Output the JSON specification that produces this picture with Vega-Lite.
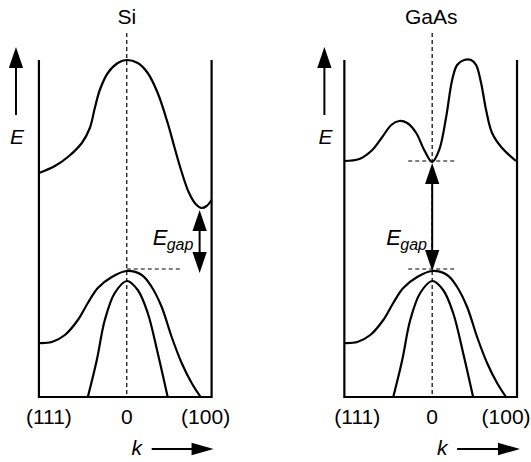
{
  "$schema": "https://vega.github.io/schema/vega-lite/v6.json",
  "width": 531,
  "height": 462,
  "autosize": {"type": "fit", "contains": "padding"},
  "padding": 0,
  "background": "white",
  "config": {"view": {"stroke": null}},
  "datasets": {
    "boxes": [
      {"id": "Si", "o": 1, "x": 39, "y": 60}, {"id": "Si", "o": 2, "x": 39, "y": 397}, {"id": "Si", "o": 3, "x": 212, "y": 397}, {"id": "Si", "o": 4, "x": 212, "y": 60},
      {"id": "GaAs", "o": 1, "x": 345, "y": 60}, {"id": "GaAs", "o": 2, "x": 345, "y": 397}, {"id": "GaAs", "o": 3, "x": 518, "y": 397}, {"id": "GaAs", "o": 4, "x": 518, "y": 60}
    ],
    "bands": [
      {"id": "Si_cb", "x": 39, "y": 173}, {"id": "Si_cb", "x": 55, "y": 166}, {"id": "Si_cb", "x": 68, "y": 157}, {"id": "Si_cb", "x": 82, "y": 143}, {"id": "Si_cb", "x": 90, "y": 128}, {"id": "Si_cb", "x": 95, "y": 108}, {"id": "Si_cb", "x": 100, "y": 90}, {"id": "Si_cb", "x": 108, "y": 73}, {"id": "Si_cb", "x": 118, "y": 63}, {"id": "Si_cb", "x": 127, "y": 60}, {"id": "Si_cb", "x": 138, "y": 63}, {"id": "Si_cb", "x": 148, "y": 73}, {"id": "Si_cb", "x": 158, "y": 93}, {"id": "Si_cb", "x": 168, "y": 123}, {"id": "Si_cb", "x": 175, "y": 148}, {"id": "Si_cb", "x": 182, "y": 172}, {"id": "Si_cb", "x": 189, "y": 192}, {"id": "Si_cb", "x": 196, "y": 204}, {"id": "Si_cb", "x": 202, "y": 208}, {"id": "Si_cb", "x": 207, "y": 206}, {"id": "Si_cb", "x": 212, "y": 200},
      {"id": "Si_hh", "x": 39, "y": 343}, {"id": "Si_hh", "x": 52, "y": 342}, {"id": "Si_hh", "x": 65, "y": 335}, {"id": "Si_hh", "x": 78, "y": 320}, {"id": "Si_hh", "x": 88, "y": 303}, {"id": "Si_hh", "x": 98, "y": 288}, {"id": "Si_hh", "x": 112, "y": 277}, {"id": "Si_hh", "x": 127, "y": 271}, {"id": "Si_hh", "x": 142, "y": 275}, {"id": "Si_hh", "x": 152, "y": 287}, {"id": "Si_hh", "x": 162, "y": 307}, {"id": "Si_hh", "x": 172, "y": 337}, {"id": "Si_hh", "x": 182, "y": 363}, {"id": "Si_hh", "x": 192, "y": 383}, {"id": "Si_hh", "x": 201, "y": 397},
      {"id": "Si_lh", "x": 88, "y": 397}, {"id": "Si_lh", "x": 97, "y": 360}, {"id": "Si_lh", "x": 105, "y": 320}, {"id": "Si_lh", "x": 115, "y": 293}, {"id": "Si_lh", "x": 127, "y": 281}, {"id": "Si_lh", "x": 138, "y": 290}, {"id": "Si_lh", "x": 148, "y": 313}, {"id": "Si_lh", "x": 158, "y": 353}, {"id": "Si_lh", "x": 168, "y": 397},
      {"id": "GaAs_cb", "x": 345, "y": 161}, {"id": "GaAs_cb", "x": 360, "y": 159}, {"id": "GaAs_cb", "x": 373, "y": 150}, {"id": "GaAs_cb", "x": 383, "y": 137}, {"id": "GaAs_cb", "x": 392, "y": 125}, {"id": "GaAs_cb", "x": 400, "y": 121}, {"id": "GaAs_cb", "x": 408, "y": 123}, {"id": "GaAs_cb", "x": 417, "y": 133}, {"id": "GaAs_cb", "x": 425, "y": 150}, {"id": "GaAs_cb", "x": 433, "y": 162}, {"id": "GaAs_cb", "x": 440, "y": 150}, {"id": "GaAs_cb", "x": 447, "y": 117}, {"id": "GaAs_cb", "x": 453, "y": 80}, {"id": "GaAs_cb", "x": 458, "y": 65}, {"id": "GaAs_cb", "x": 465, "y": 60}, {"id": "GaAs_cb", "x": 472, "y": 60}, {"id": "GaAs_cb", "x": 477, "y": 65}, {"id": "GaAs_cb", "x": 482, "y": 83}, {"id": "GaAs_cb", "x": 487, "y": 110}, {"id": "GaAs_cb", "x": 493, "y": 133}, {"id": "GaAs_cb", "x": 503, "y": 148}, {"id": "GaAs_cb", "x": 517, "y": 161},
      {"id": "GaAs_hh", "x": 345, "y": 343}, {"id": "GaAs_hh", "x": 358, "y": 342}, {"id": "GaAs_hh", "x": 371, "y": 335}, {"id": "GaAs_hh", "x": 384, "y": 320}, {"id": "GaAs_hh", "x": 394, "y": 303}, {"id": "GaAs_hh", "x": 404, "y": 288}, {"id": "GaAs_hh", "x": 418, "y": 277}, {"id": "GaAs_hh", "x": 433, "y": 271}, {"id": "GaAs_hh", "x": 448, "y": 275}, {"id": "GaAs_hh", "x": 458, "y": 287}, {"id": "GaAs_hh", "x": 468, "y": 307}, {"id": "GaAs_hh", "x": 478, "y": 337}, {"id": "GaAs_hh", "x": 488, "y": 363}, {"id": "GaAs_hh", "x": 498, "y": 383}, {"id": "GaAs_hh", "x": 507, "y": 397},
      {"id": "GaAs_lh", "x": 394, "y": 397}, {"id": "GaAs_lh", "x": 403, "y": 360}, {"id": "GaAs_lh", "x": 411, "y": 320}, {"id": "GaAs_lh", "x": 421, "y": 293}, {"id": "GaAs_lh", "x": 433, "y": 281}, {"id": "GaAs_lh", "x": 444, "y": 290}, {"id": "GaAs_lh", "x": 454, "y": 313}, {"id": "GaAs_lh", "x": 464, "y": 353}, {"id": "GaAs_lh", "x": 474, "y": 397}
    ],
    "dashed": [
      {"id": "Si_v", "o": 1, "x": 127, "y": 33}, {"id": "Si_v", "o": 2, "x": 127, "y": 397},
      {"id": "GaAs_v", "o": 1, "x": 433, "y": 33}, {"id": "GaAs_v", "o": 2, "x": 433, "y": 397},
      {"id": "Si_h", "o": 1, "x": 127, "y": 269}, {"id": "Si_h", "o": 2, "x": 182, "y": 269},
      {"id": "GaAs_hc", "o": 1, "x": 409, "y": 161}, {"id": "GaAs_hc", "o": 2, "x": 458, "y": 161},
      {"id": "GaAs_hv", "o": 1, "x": 409, "y": 269}, {"id": "GaAs_hv", "o": 2, "x": 458, "y": 269}
    ],
    "shafts": [
      {"id": "Si_E", "o": 1, "x": 16, "y": 115}, {"id": "Si_E", "o": 2, "x": 16, "y": 62},
      {"id": "GaAs_E", "o": 1, "x": 325, "y": 115}, {"id": "GaAs_E", "o": 2, "x": 325, "y": 62},
      {"id": "Si_gap", "o": 1, "x": 200, "y": 225}, {"id": "Si_gap", "o": 2, "x": 200, "y": 258},
      {"id": "GaAs_gap", "o": 1, "x": 433, "y": 178}, {"id": "GaAs_gap", "o": 2, "x": 433, "y": 258},
      {"id": "Si_k", "o": 1, "x": 152, "y": 449}, {"id": "Si_k", "o": 2, "x": 196, "y": 449},
      {"id": "GaAs_k", "o": 1, "x": 458, "y": 449}, {"id": "GaAs_k", "o": 2, "x": 503, "y": 449}
    ],
    "heads": [
      {"dir": "up", "x": 16, "y": 47}, {"dir": "up", "x": 325, "y": 47},
      {"dir": "up", "x": 200, "y": 210}, {"dir": "up", "x": 433, "y": 163},
      {"dir": "down", "x": 200, "y": 273}, {"dir": "down", "x": 433, "y": 271},
      {"dir": "right", "x": 214, "y": 449}, {"dir": "right", "x": 521, "y": 449}
    ],
    "labels": [
      {"kind": "title", "text": "Si", "x": 127, "y": 24},
      {"kind": "title", "text": "GaAs", "x": 432, "y": 24},
      {"kind": "tick", "text": "(111)", "x": 49, "y": 424},
      {"kind": "tick", "text": "0", "x": 127, "y": 424},
      {"kind": "tick", "text": "(100)", "x": 206, "y": 424},
      {"kind": "tick", "text": "(111)", "x": 358, "y": 424},
      {"kind": "tick", "text": "0", "x": 433, "y": 424},
      {"kind": "tick", "text": "(100)", "x": 507, "y": 424},
      {"kind": "axis", "text": "E", "x": 17, "y": 144},
      {"kind": "axis", "text": "E", "x": 326, "y": 144},
      {"kind": "axis", "text": "k", "x": 137, "y": 455},
      {"kind": "axis", "text": "k", "x": 443, "y": 455},
      {"kind": "gapE", "text": "E", "x": 153, "y": 245},
      {"kind": "gapE", "text": "E", "x": 387, "y": 245},
      {"kind": "gapSub", "text": "gap", "x": 167, "y": 250},
      {"kind": "gapSub", "text": "gap", "x": 401, "y": 250}
    ]
  },
  "encoding": {
    "x": {"field": "x", "type": "quantitative", "scale": {"domain": [0, 531], "nice": false, "zero": false}, "axis": null},
    "y": {"field": "y", "type": "quantitative", "scale": {"domain": [0, 462], "nice": false, "zero": false, "reverse": true}, "axis": null}
  },
  "layer": [
    {
      "data": {"name": "boxes"},
      "mark": {"type": "line", "color": "black", "strokeWidth": 2.2, "strokeJoin": "miter", "strokeCap": "butt"},
      "encoding": {"detail": {"field": "id"}, "order": {"field": "o", "type": "quantitative"}}
    },
    {
      "data": {"name": "bands"},
      "mark": {"type": "line", "color": "black", "strokeWidth": 2.2, "interpolate": "catmull-rom"},
      "encoding": {"detail": {"field": "id"}}
    },
    {
      "data": {"name": "dashed"},
      "mark": {"type": "line", "color": "black", "strokeWidth": 1.2, "strokeDash": [4, 3]},
      "encoding": {"detail": {"field": "id"}, "order": {"field": "o", "type": "quantitative"}}
    },
    {
      "data": {"name": "shafts"},
      "mark": {"type": "line", "color": "black", "strokeWidth": 2},
      "encoding": {"detail": {"field": "id"}, "order": {"field": "o", "type": "quantitative"}}
    },
    {
      "data": {"name": "heads"},
      "mark": {"type": "point", "filled": true, "color": "black", "opacity": 1, "size": 441, "strokeWidth": 0},
      "encoding": {
        "shape": {"field": "dir", "type": "nominal", "legend": null,
          "scale": {"domain": ["up", "down", "right"], "range": ["M0,0L0.68,2L-0.68,2Z", "M0,0L0.68,-2L-0.68,-2Z", "M0,0L-2.1,0.6L-2.1,-0.6Z"]}}
      }
    },
    {
      "data": {"name": "labels"},
      "transform": [{"filter": "datum.kind === 'title' || datum.kind === 'tick'"}],
      "mark": {"type": "text", "font": "Liberation Sans", "fontSize": 21, "align": "center", "baseline": "alphabetic", "color": "black"},
      "encoding": {"text": {"field": "text"}}
    },
    {
      "data": {"name": "labels"},
      "transform": [{"filter": "datum.kind === 'axis'"}],
      "mark": {"type": "text", "font": "Liberation Sans", "fontSize": 21, "fontStyle": "italic", "align": "center", "baseline": "alphabetic", "color": "black"},
      "encoding": {"text": {"field": "text"}}
    },
    {
      "data": {"name": "labels"},
      "transform": [{"filter": "datum.kind === 'gapE'"}],
      "mark": {"type": "text", "font": "Liberation Sans", "fontSize": 22, "fontStyle": "italic", "align": "left", "baseline": "alphabetic", "color": "black"},
      "encoding": {"text": {"field": "text"}}
    },
    {
      "data": {"name": "labels"},
      "transform": [{"filter": "datum.kind === 'gapSub'"}],
      "mark": {"type": "text", "font": "Liberation Sans", "fontSize": 16, "fontStyle": "italic", "align": "left", "baseline": "alphabetic", "color": "black"},
      "encoding": {"text": {"field": "text"}}
    }
  ]
}
